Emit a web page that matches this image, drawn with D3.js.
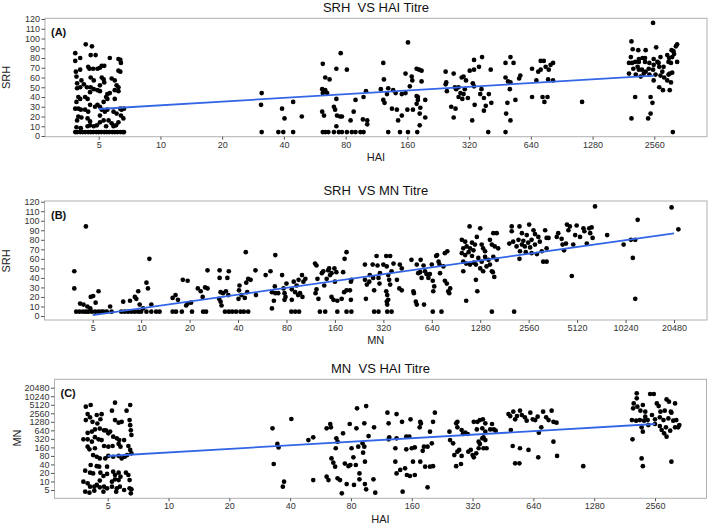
<!DOCTYPE html>
<html><head><meta charset="utf-8">
<script src="https://cdn.jsdelivr.net/npm/d3@7"></script>
<style>
body{margin:0;background:#fff;}
svg{display:block;font-family:"Liberation Sans",Arial,sans-serif;}
.ttl{white-space:pre;}
</style></head><body>
<script>
// Tick labels (titres on a log2 axis; data x/y for titres stored as log2(titre/5), jittered as plotted)
const haiTicks = [5,10,20,40,80,160,320,640,1280,2560];
const mnTicks = [5,10,20,40,80,160,320,640,1280,2560,5120,10240,20480];
const srhTicks = [0,10,20,30,40,50,60,70,80,90,100,110,120];

// Panel A: [HAI step, SRH]
const srhVsHai = [
[-0.38,85],[-0.38,77],[-0.30,80],[-0.37,66],[-0.30,68],[-0.36,61],[-0.21,94],[-0.11,92],[-0.13,83],[-0.05,83],
[-0.17,71],[-0.15,69],[-0.09,69],[-0.02,69],[0.02,70],[0.05,72],[0.09,72],[0.18,80],[0.32,79],[0.35,78],
[0.36,75],[0.32,67],[0.35,66],[0.21,59],[0.26,57],[0.05,60],[0.08,58],[-0.13,60],[-0.08,57],[-0.28,57],
[-0.24,53],[-0.35,54],[-0.30,50],[-0.35,49],[-0.19,50],[-0.13,50],[0.02,52],[0.09,55],[0.29,52],[0.32,50],
[0.26,47],[0.32,46],[-0.02,47],[0.02,46],[-0.08,48],[-0.14,45],[-0.33,40],[-0.30,38],[-0.36,35],[-0.22,40],
[-0.18,38],[0.12,40],[0.14,38],[0.08,35],[0.26,38],[0.18,44],[0.14,43],[-0.14,32],[-0.06,30],[0.02,30],
[-0.02,32],[-0.38,28],[-0.33,28],[-0.29,27],[-0.22,27],[-0.17,25],[0.05,27],[0.10,25],[0.14,27],[0.24,25],
[0.29,23],[0.37,27],[0.41,28],[0.35,28],[-0.33,20],[-0.28,19],[-0.35,16],[-0.18,18],[-0.14,15],[0.02,21],
[0.08,16],[0.02,14],[-0.03,11],[-0.08,10],[0.16,16],[0.21,13],[0.24,10],[0.28,11],[0.32,14],[0.36,21],
[0.40,18],[-0.36,9],[-0.29,8],[-0.14,11],[-0.18,10],[0.12,10],
[-0.38,4],[-0.35,4],[-0.30,4],[-0.26,4],[-0.22,4],[-0.17,4],[-0.13,4],[-0.09,4],[-0.04,4],[0,4],[0.04,4],[0.09,4],[0.13,4],[0.17,4],[0.22,4],[0.26,4],[0.30,4],[0.35,4],[0.39,4],[0.41,4],
[2.64,44],[2.63,32],[2.64,4],[2.91,4],[2.99,4],[2.97,28],[3.01,18],[3.15,35],[3.15,4],[3.29,20],
[3.63,74],[3.62,48],[3.67,47],[3.63,44],[3.70,44],[3.67,60],[3.74,58],[3.85,69],[4.02,68],[3.92,85],
[3.62,25],[3.65,21],[3.81,30],[3.83,27],[3.85,38],[3.86,21],[3.91,20],[3.94,20],[3.85,10],
[3.63,4],[3.67,4],[3.72,4],[3.81,4],[3.89,4],[3.94,4],[4.02,4],
[4.10,4],[4.16,4],[4.24,4],[4.29,4],[4.13,25],[4.08,16],[4.28,17],[4.35,16],[4.35,12],[4.16,37],[4.29,40],[4.33,46],
[4.57,48],[4.61,75],[4.62,58],[4.61,37],[4.63,34],[4.69,49],[4.77,47],[4.81,44],[4.67,43],[4.75,28],[4.83,27],[4.85,16],[4.91,21],[4.69,4],[4.88,4],
[5.01,96],[4.97,64],[5.07,61],[5.08,57],[5.04,51],[4.91,43],[4.97,44],[5.00,27],[5.09,27],[5.01,4],[5.16,4],
[5.15,69],[5.19,68],[5.23,67],[5.15,41],[5.17,40],[5.23,56],[5.17,37],[5.15,33],[5.29,37],[5.20,23],[5.29,19],[5.20,11],[5.21,29],
[5.62,66],[5.63,55],[5.62,53],[5.64,46],[5.75,64],[5.77,50],[5.71,30],[5.78,28],[5.75,19],
[5.79,48],[5.83,50],[5.88,60],[5.91,61],[5.86,44],[5.93,48],[5.83,40],[5.89,38],[5.95,57],[6.01,67],[6.08,68],
[6.08,78],[6.06,54],[6.08,51],[5.98,39],[5.91,43],[6.05,16],[6.09,32],[6.16,71],[6.21,81],[6.20,48],[6.18,43],
[6.24,39],[6.27,31],[6.24,26],[6.32,43],[6.35,68],[6.36,34],[6.31,4],
[6.59,60],[6.63,56],[6.59,75],[6.67,81],[6.72,75],[6.67,55],[6.66,48],[6.75,37],[6.62,34],[6.60,23],[6.67,16],[6.59,4],
[6.81,59],[6.83,62],[7.02,69],[7.02,40],[7.09,57],[7.12,66],[7.16,77],[7.21,77],[7.24,71],[7.16,68],[7.19,40],[7.22,35],
[7.27,40],[7.28,58],[7.29,68],[7.32,73],[7.36,75],[7.36,57],[7.83,35],
[8.63,97],[8.65,89],[8.63,18],[8.69,40],[8.59,75],[8.59,64],[8.74,88],[8.86,88],[9.03,91],[8.98,116],
[8.62,81],[8.69,76],[8.75,79],[8.81,80],[8.85,76],[8.92,75],[8.99,79],[9.05,76],[9.10,81],
[9.21,83],[9.24,80],[9.28,88],[9.35,92],[9.37,94],[9.27,75],[9.32,84],[9.37,76],
[8.66,69],[8.73,71],[8.80,68],[8.86,66],[8.92,63],[8.70,63],[8.78,61],[8.98,68],[9.08,71],[9.13,66],
[9.16,60],[9.10,62],[9.25,64],[9.29,65],[8.99,57],[9.21,57],[9.27,55],[9.08,50],[9.14,47],[9.25,47],
[8.94,40],[8.97,34],[8.90,18],[8.94,23],[9.30,4],
[8.64,75],[8.75,76],[8.85,80],[8.91,69],[8.99,73],[9.07,75],[9.15,71],[9.23,76],[9.29,81],[9.31,87],[8.75,68],[8.83,64],[9.02,63],[9.23,63]
];
const fitA = [[0,27.7],[9,61.9]];

// Panel B: [MN step, SRH]
const srhVsMn = [
[-0.38,47],[-0.38,29],[-0.14,94],[-0.26,13],[-0.19,12],[-0.11,10],[-0.05,8],[-0.04,20],[0.01,21],[0.06,14],[0.12,26],
[-0.34,4.5],[-0.27,4.5],[-0.20,4.5],[-0.14,4.5],[-0.09,4.5],[-0.02,4.5],[0.05,4.5],[0.12,4.5],[0.18,4.5],[0.22,4.5],[0.29,4.5],[0.36,10],[0.39,4.5],
[0.63,15],[0.77,16],[0.87,20],[0.90,18],
[0.59,4.5],[0.66,4.5],[0.73,4.5],[0.80,4.5],[0.87,4.5],[0.94,4.5],[1.00,4.5],[1.11,4.5],[1.21,4.5],[1.31,4.5],[1.38,4.5],
[0.94,26],[0.97,12],[1.11,35],[1.14,29],[1.17,60],[1.21,12],[1.04,8],
[1.65,19],[1.71,22],[1.76,17],[1.65,4.5],[1.72,4.5],[1.86,38],[1.96,37],[1.96,13],[2.03,14],[1.84,4.5],[2.05,4.5],[1.93,11],
[2.17,29],[2.23,26],[2.27,20],[2.28,4.5],[2.34,4.5],[2.37,48],[2.32,30],[2.37,29],
[2.62,48],[2.62,40],[2.64,25],[2.61,18],[2.64,15],[2.66,11],[2.69,24],[2.75,26],[2.80,22],[2.78,40],[2.81,47],
[2.81,4.5],[2.88,4.5],[2.73,4.5],
[3.01,18],[3.02,27],[3.07,22],[3.03,32],[2.96,4.5],[3.05,4.5],
[3.16,67],[3.17,35],[3.21,39],[3.19,25],[3.14,19],[3.12,4.5],[3.21,4.5],
[3.26,38],[3.36,48],[3.37,22],
[3.57,43],[3.67,47],[3.70,8],[3.74,16],[3.77,64],[3.76,31],[3.77,24],[3.70,25],[3.83,24],
[3.91,43],[3.94,29],[3.96,24],[3.98,20],[3.96,17],[4.00,34],
[4.11,17],[4.15,36],[4.11,28],[4.18,25],[4.21,32],[4.25,38],[4.28,24],[4.24,22],[4.32,43],[4.35,36],[4.33,20],[4.39,39],
[4.10,4.5],[4.18,4.5],[4.26,4.5],
[4.59,55],[4.62,53],[4.64,39],[4.62,28],[4.60,24],[4.66,18],[4.69,4.5],[4.80,4.5],
[4.73,45],[4.76,47],[4.78,32],[4.83,39],[4.86,48],[4.90,43],[4.88,50],[4.93,45],[4.99,50],[5.00,36],[5.03,46],[4.93,20],[4.97,17],
[5.17,46],[5.20,60],[5.24,67],[5.19,25],[5.24,27],[5.14,18],[5.05,4.5],[5.24,4.5],[5.34,4.5],
[5.31,27],[5.33,36],[5.34,38],[5.33,17],[5.05,16],
[5.62,54],[5.62,38],[5.66,33],[5.64,18],[5.72,43],[5.71,36],[5.78,54],[5.79,40],[5.81,27],
[5.86,63],[5.88,53],[5.90,40],[5.92,34],[5.93,45],
[6.00,54],[6.06,63],[6.07,52],[6.10,43],[6.08,22],[6.06,26],[6.14,63],[6.12,38],[6.17,47],[6.21,55],[6.14,33],
[6.07,15],[6.10,17],[6.08,12],
[5.81,4.5],[5.90,4.5],[6.08,4.5],[6.17,4.5],
[6.28,38],[6.33,29],[6.38,27],[6.38,50],[6.34,54],
[6.58,59],[6.62,26],[6.63,24],[6.69,54],[6.67,15],[6.69,12],
[6.72,45],[6.76,46],[6.79,40],[6.84,12],[6.77,59],[6.83,53],[6.86,47],[6.89,44],[6.93,40],
[6.96,44],[7.00,54],[7.02,37],[7.03,26],[7.05,31],[7.02,4.5],[7.20,4.5],
[7.09,63],[7.11,64],[7.14,57],[7.16,54],[7.17,45],
[7.27,66],[7.24,52],[7.27,37],[7.31,34],[7.32,68],[7.34,26],[7.38,29],[7.36,24],
[7.62,80],[7.69,78],[7.78,94],[8.00,92],[7.65,71],[7.72,73],[7.79,71],[7.86,69],
[7.62,66],[7.69,64],[7.76,67],[7.83,63],[7.93,83],[7.89,75],[8.03,75],[8.06,71],[8.10,68],
[8.20,80],[8.27,87],[8.34,87],[8.24,75],[8.30,73],[8.37,71],
[7.65,57],[7.71,55],[7.79,54],[7.87,56],[7.96,61],[8.03,57],[8.10,62],[8.17,59],[8.27,62],[8.34,59],
[7.65,47],[7.91,54],[8.00,50],[8.06,47],[8.13,52],[8.20,54],[8.24,47],[8.29,41],[8.26,46],[7.91,38],[7.94,26],
[7.71,16],[8.24,4.5],[8.70,4.5],[7.83,77],
[8.65,94],[8.81,94],[9.01,96],[9.10,90],[9.34,90],[8.65,89],[8.86,87],[8.96,85],[9.13,86],[9.20,83],[9.37,82],
[8.60,76],[8.68,78],[8.79,80],[8.89,79],[8.99,77],[9.06,80],[8.75,73],[8.86,75],[8.92,73],[9.03,72],[9.13,75],[9.23,78],
[8.82,68],[8.94,67],[9.06,66],[9.17,65],[9.27,68],[9.37,71],[8.81,60],[9.30,57],[9.37,57],[9.41,82],
[9.61,87],[9.79,96],[9.85,94],[9.99,95],[10.13,92],[10.25,92],[10.30,93],
[9.68,81],[9.82,90],[9.96,85],[10.06,83],[10.15,89],[10.27,87],[10.32,82],
[9.58,83],[9.70,75],[9.77,76],[9.92,75],[10.20,76],[9.89,42],[9.73,69],
[10.37,115],[10.62,85],
[10.96,75],[11.11,80],[11.20,80],[11.25,101],[11.15,61],[11.20,18],[11.95,114],[12.09,91]
];
const fitB = [[0,1.0],[12,86.8]];

// Panel C: [HAI step, MN step]
const mnVsHai = [
[-0.36,9.77],[-0.28,9.97],[0.12,10.24],[0.37,9.97],
[-0.33,8.91],[-0.29,8.52],[-0.36,8.2],[-0.25,8.0],[-0.18,8.8],[-0.10,8.9],[-0.12,8.3],[-0.17,7.8],
[0.07,9.3],[0.18,7.9],[0.12,8.2],[0.23,8.0],[0.31,9.3],[0.36,8.2],[0.37,7.6],[0.38,7.0],[0.39,6.45],
[-0.33,6.7],[-0.26,6.85],[-0.21,7.1],[-0.40,5.94],[-0.33,5.94],[-0.26,5.67],[-0.21,6.2],[-0.15,5.94],[-0.10,5.86],
[-0.03,7.0],[0.01,6.65],[0.04,6.85],[-0.13,7.2],[-0.06,7.0],[0.09,6.25],[0.15,6.06],[0.19,5.86],[0.27,5.86],
[-0.33,5.08],[-0.30,4.77],[-0.21,4.9],[-0.06,5.16],[0.01,5.08],[0.08,5.16],[0.18,5.4],[0.21,5.08],[0.34,5.16],[0.37,4.7],[0.39,4.3],[0.32,4.1],
[-0.24,4.1],[-0.18,3.9],[-0.13,3.7],[-0.04,3.7],[0.01,4.0],[0.09,3.9],[0.18,4.0],[0.23,3.7],[0.28,3.9],
[-0.28,2.93],[-0.18,2.8],[-0.14,2.74],[-0.01,2.74],[-0.37,2.27],[-0.29,2.03],[-0.24,1.95],
[-0.12,2.03],[-0.07,1.64],[-0.01,1.88],[0.09,2.15],[0.12,1.76],[0.18,2.03],[0.21,1.56],[0.30,2.03],[0.34,1.76],[0.36,1.17],
[0.18,1.17],[0.12,1.25],[0.07,0.98],[-0.40,0.98],[-0.33,0.78],[-0.29,0.39],[-0.22,0.39],[-0.18,0.59],[-0.13,0.31],[-0.06,0.39],[-0.01,0.2],
[0.07,0.39],[0.15,0.2],[0.20,0.39],[0.27,0],[0.36,0.2],[0.38,-0.39],[-0.37,-0.2],[-0.30,-0.31],[-0.22,-0.08],[-0.07,-0.2],[0.14,-0.2],[0.39,0.08],[-0.13,1.1],
[2.71,7.23],[3.02,8.33],[2.73,3.05],[2.79,5.4],[2.81,5.0],[2.88,0.39],[2.90,0.98],[3.30,5.86],[3.38,6.18],[3.38,1.17],
[3.60,7.23],[3.67,7.35],[3.66,7.74],[3.60,1.56],[3.63,1.17],[3.76,6.06],[3.78,5.67],[3.68,3.7],[3.71,3.2],[3.74,2.74],
[3.78,1.37],[3.82,1.17],[3.85,-0.39],[3.75,4.9],[3.87,6.65],[3.90,3.1],[3.96,2.8],[3.93,0.7],[3.99,2.93],
[3.98,7.74],[4.01,4.9],[4.04,3.83],[4.08,2.93],[4.10,9.58],[4.09,7.23],[4.12,5.08],[4.14,1.95],[4.05,0.59],
[4.25,9.85],[4.22,7.82],[4.29,6.33],[4.19,5.47],[4.22,5.08],[4.20,4.38],[4.23,3.32],[4.14,1.25],[4.23,0.7],[4.25,0.08],[4.37,1.25],[4.40,-0.31],[4.38,7.35],
[4.60,9.07],[4.75,8.91],[4.62,7.82],[4.63,6.18],[4.62,5.94],[4.73,4.9],[4.75,6.06],[4.73,3.32],[4.75,1.95],[4.81,2.35],[4.89,2.54],
[4.85,-0.2],[4.92,1.76],[4.97,1.64],[5.05,1.76],[4.84,8.0],[4.91,6.25],[4.96,6.25],[4.98,8.29],[4.91,4.77],[5.00,4.9],[5.05,5.0],[5.02,3.32],
[5.14,8.0],[5.13,7.35],[5.15,7.8],[5.14,3.32],[5.20,5.08],[5.22,2.74],[5.18,4.6],[5.26,5.08],[5.30,2.74],[5.35,2.8],[5.26,0.31],[5.30,6.84],[5.35,8.0],[5.38,9.07],[5.33,5.47],
[5.62,6.84],[5.63,5.86],[5.68,5.47],[5.73,7.82],[5.75,8.0],[5.75,7.35],[5.82,7.04],[5.84,6.57],[5.88,6.72],[5.92,6.57],
[5.70,4.1],[5.73,2.8],[5.75,4.5],[5.78,4.7],[5.81,3.05],[5.82,4.0],[5.93,4.5],[5.97,4.7],[6.00,4.1],[6.02,3.83],[6.06,4.3],
[6.02,8.0],[6.08,8.0],[6.12,8.2],[6.17,8.29],[6.21,7.82],[6.07,7.1],[6.16,7.23],[6.21,6.84],[6.16,6.06],[6.18,6.18],
[6.10,5.67],[6.12,5.4],[6.21,5.86],[6.23,4.9],[6.10,4.9],[6.18,4.9],[6.32,7.74],[6.35,7.1],[6.38,6.96],[6.29,7.1],
[6.59,8.91],[6.62,8.67],[6.67,9.19],[6.73,8.67],[6.78,9.3],[6.70,8.29],[6.81,8.8],[6.86,8.52],[6.89,8.13],[6.95,9.07],
[6.99,8.29],[7.03,8.2],[7.07,8.6],[7.16,9.19],[7.21,8.52],[7.25,8.2],[7.30,9.3],[7.33,8.0],[7.38,7.9],
[6.63,7.04],[7.13,7.35],[7.09,6.72],[6.66,5.16],[6.78,4.9],[6.92,4.7],[7.08,3.83],[6.70,3.13],[6.77,3.13],[7.33,5.67],[7.39,4.0],[7.82,2.8],
[8.70,11.34],[8.70,10.75],[8.92,11.26],[8.98,11.26],[9.19,10.63],[9.23,10.36],
[8.65,10.16],[8.71,9.77],[8.64,9.58],[8.80,9.97],[8.84,9.19],[8.76,9.3],
[9.03,10.16],[9.06,9.85],[9.09,9.19],[9.16,9.3],[9.26,9.19],[9.33,10.16],
[8.62,8.2],[8.69,8.13],[8.75,8.2],[8.82,8.13],[8.88,8.2],[8.84,8.6],[8.95,8.8],[9.00,8.29],[9.08,8.52],[9.14,8.2],
[9.22,8.4],[9.27,9.07],[9.30,8.13],[9.35,8.2],[9.38,7.35],[9.40,7.62],
[8.78,7.35],[8.89,7.62],[9.00,7.74],[9.08,7.5],[9.18,7.35],[9.11,7.04],[9.15,6.65],[9.19,6.25],[9.25,6.96],[9.33,7.35],
[8.63,5.94],[8.80,6.84],[8.78,3.7],[8.80,2.8],[9.27,3.32]
];
const fitC = [[0,3.99],[9,7.74]];

const W = 709, H = 526;
const svg = d3.select("body").append("svg").attr("width", W).attr("height", H);

const panels = [
  { title: "SRH  VS HAI Titre", tag: "(A)", pts: srhVsHai, fit: fitA, xLab: "HAI", yLab: "SRH",
    xTicks: haiTicks, yTicks: srhTicks, yLog: false,
    frame: [45, 18.3, 707, 136.7], xr: [98.7, 654.3], yd: [0, 120], yr: [136, 19],
    titleY: 11.5, xLabY: 161, yLabX: 10, yLabY: 77.5, tagX: 51, tagY: 35.5 },
  { title: "SRH  VS MN Titre", tag: "(B)", pts: srhVsMn, fit: fitB, xLab: "MN", yLab: "SRH",
    xTicks: mnTicks, yTicks: srhTicks, yLog: false,
    frame: [44.5, 201, 707, 320], xr: [92.7, 674], yd: [0, 120], yr: [316, 201.7],
    titleY: 195, xLabY: 344, yLabX: 10, yLabY: 261, tagX: 51, tagY: 218.5 },
  { title: "MN  VS HAI Titre", tag: "(C)", pts: mnVsHai, fit: fitC, xLab: "HAI", yLab: "MN",
    xTicks: haiTicks, yTicks: mnTicks, yLog: true,
    frame: [54.5, 379.3, 706.5, 498.3], xr: [107.7, 655], yd: [0, 12], yr: [490, 387.7],
    titleY: 373, xLabY: 523, yLabX: 20.5, yLabY: 438, tagX: 60.5, tagY: 396.5 }
];

panels.forEach(p => {
  const [fx0, fy0, fx1, fy1] = p.frame;
  const x = d3.scaleLinear().domain([0, p.xTicks.length - 1]).range(p.xr);
  const y = d3.scaleLinear().domain(p.yd).range(p.yr);
  const g = svg.append("g");

  g.append("rect").attr("x", fx0).attr("y", fy0).attr("width", fx1 - fx0).attr("height", fy1 - fy0)
    .attr("fill", "#fff").attr("stroke", "#b0b0b0").attr("stroke-width", 1);

  const xAxis = d3.axisBottom(x).tickValues(d3.range(p.xTicks.length))
    .tickFormat(i => p.xTicks[i]).tickSize(3).tickPadding(1.5);
  const gx = g.append("g").attr("transform", `translate(0,${fy1})`).call(xAxis);
  gx.select(".domain").remove();

  const yVals = p.yLog ? d3.range(p.yTicks.length) : p.yTicks;
  const yAxis = d3.axisLeft(y).tickValues(yVals)
    .tickFormat((v, i) => p.yTicks[i]).tickSize(3.5).tickPadding(1.5);
  const gy = g.append("g").attr("transform", `translate(${fx0},0)`).call(yAxis);
  gy.select(".domain").remove();

  [gx, gy].forEach(a => {
    a.selectAll("text").attr("font-size", 9).attr("fill", "#333")
      .attr("font-family", '"Liberation Sans",Arial,sans-serif');
    a.selectAll("line").attr("stroke", "#555");
  });

  g.append("g").selectAll("circle").data(p.pts).join("circle")
    .attr("cx", d => x(d[0])).attr("cy", d => y(d[1])).attr("r", 2.35).attr("fill", "#000");

  g.append("path").datum(p.fit)
    .attr("d", d3.line().x(d => x(d[0])).y(d => y(d[1])))
    .attr("stroke", "#3366e6").attr("stroke-width", 1.8).attr("fill", "none");

  g.append("text").attr("class", "ttl").attr("x", (fx0 + fx1) / 2).attr("y", p.titleY).attr("text-anchor", "middle")
    .attr("font-size", 13).attr("fill", "#111").text(p.title);
  g.append("text").attr("x", (fx0 + fx1) / 2).attr("y", p.xLabY).attr("text-anchor", "middle")
    .attr("font-size", 11).attr("fill", "#222").text(p.xLab);
  g.append("text").attr("transform", `translate(${p.yLabX},${p.yLabY}) rotate(-90)`)
    .attr("text-anchor", "middle").attr("font-size", 11).attr("fill", "#222").text(p.yLab);
  g.append("text").attr("x", p.tagX).attr("y", p.tagY).attr("font-size", 11)
    .attr("font-weight", "bold").attr("fill", "#111").text(p.tag);
});
</script>
</body></html>
